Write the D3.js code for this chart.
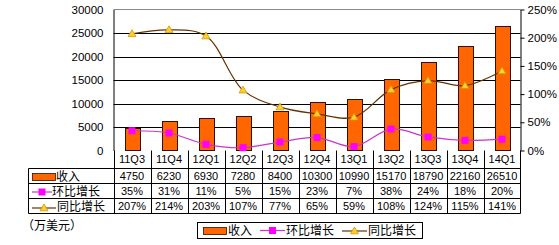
<!DOCTYPE html>
<html lang="zh">
<head>
<meta charset="utf-8">
<title>收入 环比 同比</title>
<script src="https://cdn.jsdelivr.net/npm/d3@7"></script>
<style>
  body { margin: 0; background: #fff; }
  text { font-family: "Liberation Sans", Arial, sans-serif; font-size: 11px; fill: #000; }
  .cn { font-family: "Noto Sans CJK SC", sans-serif; font-size: 12px; }
</style>
</head>
<body>
<script>
// data
var categories = ["11Q3","11Q4","12Q1","12Q2","12Q3","12Q4","13Q1","13Q2","13Q3","13Q4","14Q1"];
var revenue = [4750, 6230, 6930, 7280, 8400, 10300, 10990, 15170, 18790, 22160, 26510];
var qoq = [35, 31, 11, 5, 15, 23, 7, 38, 24, 18, 20];      // 环比增长 %
var yoy = [207, 214, 203, 107, 77, 65, 59, 108, 124, 115, 141]; // 同比增长 %
var leftTicks = [0, 5000, 10000, 15000, 20000, 25000, 30000];
var rightTicks = [0, 50, 100, 150, 200, 250];

var w = 559, h = 245;
var pLeft = 113.5, pRight = 520.5, pTop = 9.5, pBottom = 150.5;
var tableLeft = 28.5;
var rowLines = [168.5, 183.5, 198.5, 213.5];

var svg = d3.select("body").append("svg").attr("width", w).attr("height", h);

var x = d3.scaleBand().domain(categories).range([pLeft, pRight]);
var yL = d3.scaleLinear().domain([0, 30000]).range([pBottom, pTop]);
var yR = d3.scaleLinear().domain([0, 250]).range([pBottom, pTop]);

// gridlines
svg.append("g").selectAll("line")
  .data(leftTicks.slice(1, -1))
  .enter().append("line")
  .attr("x1", pLeft).attr("x2", pRight)
  .attr("y1", function(d) { return Math.round(yL(d)) + 0.5; })
  .attr("y2", function(d) { return Math.round(yL(d)) + 0.5; })
  .attr("stroke", "#000");

// top border
svg.append("line").attr("x1", pLeft).attr("x2", pRight).attr("y1", pTop).attr("y2", pTop).attr("stroke", "#888");

// bars
var bw = 15;
svg.append("g").selectAll("rect")
  .data(revenue)
  .enter().append("rect")
  .attr("x", function(d, i) { return Math.round(x(categories[i]) + x.bandwidth() / 2 - bw / 2) + 0.5; })
  .attr("y", function(d) { return Math.round(yL(d)) + 0.5; })
  .attr("width", bw)
  .attr("height", function(d) { return pBottom - Math.round(yL(d)) - 0.5; })
  .attr("fill", "#ff6600")
  .attr("stroke", "#331100")
  .attr("stroke-width", 1);

// axes
var axL = svg.append("g").attr("transform", "translate(" + pLeft + ",0)")
  .call(d3.axisLeft(yL).tickValues(leftTicks).tickSize(0).tickPadding(10).tickFormat(d3.format("d")));
axL.select(".domain").attr("stroke", "#000");
axL.selectAll("text").style("font-size", "11.5px");

var axR = svg.append("g").attr("transform", "translate(" + pRight + ",0)")
  .call(d3.axisRight(yR).tickValues(rightTicks).tickSizeInner(4).tickSizeOuter(0).tickPadding(3)
    .tickFormat(function(d) { return d + "%"; }));
axR.select(".domain").attr("stroke", "#000");
axR.selectAll("line").attr("stroke", "#000");
axR.selectAll("text").style("font-size", "11.5px");

var cx = function(i) { return x(categories[i]) + x.bandwidth() / 2; };

// 同比 line (smoothed)
var lineYoy = d3.line().x(function(d, i) { return cx(i); }).y(function(d) { return yR(d); }).curve(d3.curveCatmullRom);
svg.append("path").datum(yoy).attr("d", lineYoy).attr("fill", "none").attr("stroke", "#663300").attr("stroke-width", 1.2);

// 环比 line
var lineQoq = d3.line().x(function(d, i) { return cx(i); }).y(function(d) { return yR(d); }).curve(d3.curveCatmullRom);
svg.append("path").datum(qoq).attr("d", lineQoq).attr("fill", "none").attr("stroke", "#cc33cc").attr("stroke-width", 1.2);

function tri(px, py, s) {
  return "M" + px + "," + (py - s) + "L" + (px + s) + "," + (py + s * 0.7) + "L" + (px - s) + "," + (py + s * 0.7) + "Z";
}

svg.append("g").selectAll("path")
  .data(yoy).enter().append("path")
  .attr("d", function(d, i) { return tri(cx(i), yR(d), 4); })
  .attr("fill", "#ffcc33").attr("stroke", "#cc9900").attr("stroke-width", 0.8);

svg.append("g").selectAll("rect")
  .data(qoq).enter().append("rect")
  .attr("x", function(d, i) { return cx(i) - 3.5; })
  .attr("y", function(d) { return yR(d) - 3.5; })
  .attr("width", 7).attr("height", 7)
  .attr("fill", "#ff00ff");

// data table
var tbl = svg.append("g");
rowLines.forEach(function(yy) {
  tbl.append("line").attr("x1", tableLeft).attr("x2", pRight).attr("y1", yy).attr("y2", yy).attr("stroke", "#000");
});
tbl.append("line").attr("x1", tableLeft).attr("x2", tableLeft).attr("y1", rowLines[0]).attr("y2", rowLines[3]).attr("stroke", "#000");
categories.forEach(function(c, i) {
  var xx = Math.round(x(c)) + 0.5;
  tbl.append("line").attr("x1", xx).attr("x2", xx).attr("y1", pBottom).attr("y2", rowLines[3]).attr("stroke", "#000");
});
tbl.append("line").attr("x1", pRight).attr("x2", pRight).attr("y1", pBottom).attr("y2", rowLines[3]).attr("stroke", "#000");

var rows = [
  { vals: categories, y: (pBottom + rowLines[0]) / 2 },
  { vals: revenue, y: (rowLines[0] + rowLines[1]) / 2 },
  { vals: qoq.map(function(d) { return d + "%"; }), y: (rowLines[1] + rowLines[2]) / 2 },
  { vals: yoy.map(function(d) { return d + "%"; }), y: (rowLines[2] + rowLines[3]) / 2 }
];
rows.forEach(function(r) {
  tbl.append("g").selectAll("text")
    .data(r.vals).enter().append("text")
    .attr("x", function(d, i) { return cx(i); })
    .attr("y", r.y)
    .attr("dy", "0.36em")
    .attr("text-anchor", "middle")
    .style("font-size", "11px")
    .text(function(d) { return d; });
});

// legend keys inside table
function keyBar(g, x0, yc, wd) {
  g.append("rect").attr("x", x0).attr("y", yc - 3.5).attr("width", wd).attr("height", 7)
    .attr("fill", "#ff6600").attr("stroke", "#331100").attr("stroke-width", 0.8);
}
function keyQoq(g, x0, yc, wd) {
  g.append("line").attr("x1", x0).attr("x2", x0 + wd).attr("y1", yc).attr("y2", yc).attr("stroke", "#cc33cc").attr("stroke-width", 1.2);
  g.append("rect").attr("x", x0 + wd / 2 - 3.5).attr("y", yc - 3.5).attr("width", 7).attr("height", 7).attr("fill", "#ff00ff");
}
function keyYoy(g, x0, yc, wd) {
  g.append("line").attr("x1", x0).attr("x2", x0 + wd).attr("y1", yc).attr("y2", yc).attr("stroke", "#663300").attr("stroke-width", 1.2);
  g.append("path").attr("d", tri(x0 + wd / 2, yc, 4)).attr("fill", "#ffcc33").attr("stroke", "#cc9900").attr("stroke-width", 0.8);
}

keyBar(tbl, 32.5, rows[1].y + 1, 23);
keyQoq(tbl, 32, rows[2].y + 1, 20);
keyYoy(tbl, 32, rows[3].y + 2, 24);
tbl.append("text").attr("class", "cn").attr("x", 56).attr("y", rows[1].y).attr("dy", "0.38em").text("收入");
tbl.append("text").attr("class", "cn").attr("x", 52).attr("y", rows[2].y).attr("dy", "0.38em").text("环比增长");
tbl.append("text").attr("class", "cn").attr("x", 57).attr("y", rows[3].y).attr("dy", "0.38em").text("同比增长");

// unit
svg.append("text").attr("class", "cn").attr("x", 22).attr("y", 226).attr("dy", "0.36em").text("（万美元）");

// bottom legend
var lg = svg.append("g");
lg.append("rect").attr("x", 197.5).attr("y", 222.5).attr("width", 225).attr("height", 16).attr("fill", "#fff").attr("stroke", "#000");
keyBar(lg, 203.5, 231, 23);
lg.append("text").attr("class", "cn").attr("x", 228).attr("y", 230.5).attr("dy", "0.38em").text("收入");
keyQoq(lg, 260, 230.5, 25);
lg.append("text").attr("class", "cn").attr("x", 286).attr("y", 230.5).attr("dy", "0.38em").text("环比增长");
keyYoy(lg, 342, 231, 25);
lg.append("text").attr("class", "cn").attr("x", 368).attr("y", 230.5).attr("dy", "0.38em").text("同比增长");
</script>
</body>
</html>
